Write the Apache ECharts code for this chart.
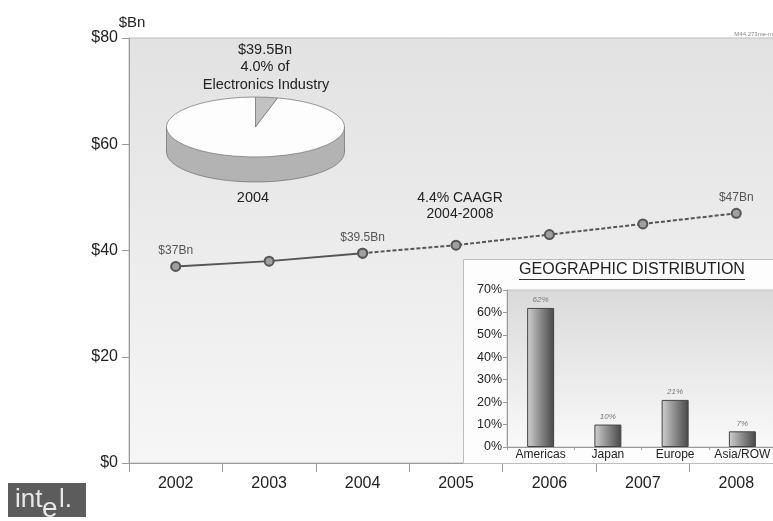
<!DOCTYPE html>
<html>
<head>
<meta charset="utf-8">
<script src="https://cdn.jsdelivr.net/npm/echarts@6/dist/echarts.min.js"></script>
<style>
html,body{margin:0;padding:0;background:#fff;}
#chart{width:773px;height:521px;}
</style>
</head>
<body>
<div id="chart"></div>
<script>
// ---- data ----
const years = ['2002', '2003', '2004', '2005', '2006', '2007', '2008'];
const marketValues = [37, 38, 39.5, 41, 43, 45, 47];   // $Bn
const lastActualIndex = 2;                             // 2004: solid up to here, dashed after
const labeledIndices = [0, 2, 6];
const yTicks = [0, 20, 40, 60, 80];

const pieNames = ['Semiconductors', 'Rest of Electronics Industry'];
const pieShares = [4.0, 96.0];

const regions = ['Americas', 'Japan', 'Europe', 'Asia/ROW'];
const regionShares = [62, 10, 21, 7];

const FONT = "'Liberation Sans', Arial, sans-serif";

const chart = echarts.init(document.getElementById('chart'), null, {renderer: 'canvas'});

function mkLine(isActual) {
  return marketValues.map((v, i) => {
    const inRange = isActual ? i <= lastActualIndex : i >= lastActualIndex;
    if (!inRange) return '-';
    const showLabel = labeledIndices.includes(i) && (isActual ? true : i > lastActualIndex);
    return {value: v, label: {show: showLabel}};
  });
}

const lineCommon = {
  type: 'line',
  xAxisIndex: 0, yAxisIndex: 0,
  symbol: 'circle', symbolSize: 9,
  itemStyle: {color: '#a0a0a0', borderColor: '#555', borderWidth: 2},
  label: {position: 'top', distance: 4, fontSize: 12, color: '#555', fontFamily: FONT,
          formatter: p => '$' + p.value + 'Bn'},
  emphasis: {disabled: true},
  animation: false,
  z: 3
};

// pie drawn as a tilted 3D disc via custom series
const PIE = {cx: 255.5, cy: 127, rx: 89, ry: 30, depth: 25};
function renderPie(params, api) {
  const i = params.dataIndex;
  const total = pieShares.reduce((a, b) => a + b, 0);
  let cum = 0;
  for (let j = 0; j < i; j++) cum += pieShares[j];
  const start = -Math.PI / 2 + cum / total * Math.PI * 2;
  const end = start + pieShares[i] / total * Math.PI * 2;
  const k = PIE.ry / PIE.rx;
  const d = PIE.depth / k;
  const children = [];
  if (i === 0) {
    children.push(
      {type: 'circle', shape: {cx: 0, cy: d, r: PIE.rx},
       style: {fill: '#b3b3b3', stroke: '#6a6a6a', lineWidth: 1, strokeNoScale: true}},
      {type: 'rect', shape: {x: -PIE.rx, y: 0, width: PIE.rx * 2, height: d},
       style: {fill: '#b3b3b3'}},
      {type: 'line', shape: {x1: -PIE.rx, y1: 0, x2: -PIE.rx, y2: d},
       style: {stroke: '#6a6a6a', lineWidth: 1, strokeNoScale: true}},
      {type: 'line', shape: {x1: PIE.rx, y1: 0, x2: PIE.rx, y2: d},
       style: {stroke: '#6a6a6a', lineWidth: 1, strokeNoScale: true}}
    );
  }
  children.push({
    type: 'sector',
    shape: {cx: 0, cy: 0, r: PIE.rx, r0: 0, startAngle: start, endAngle: end, clockwise: true},
    style: {fill: i === 0 ? '#c2c2c2' : '#fdfdfd', stroke: '#6a6a6a', lineWidth: 1, strokeNoScale: true}
  });
  return {type: 'group', x: PIE.cx, y: PIE.cy, scaleY: k, children: children};
}

const option = {
  backgroundColor: '#ffffff',
  animation: false,
  textStyle: {fontFamily: FONT},
  grid: [
    {left: 129, top: 38, width: 654, height: 425, show: true, z: 0, outerBoundsMode: 'none',
     backgroundColor: new echarts.graphic.LinearGradient(0, 0, 0, 1,
       [{offset: 0, color: '#e2e2e2'}, {offset: 1, color: '#f6f6f6'}]),
     borderColor: '#bdbdbd', borderWidth: 1},
    {left: 507, top: 290, width: 269, height: 157, show: true, z: 2, outerBoundsMode: 'none',
     backgroundColor: new echarts.graphic.LinearGradient(0, 0, 0, 1,
       [{offset: 0, color: '#dadada'}, {offset: 1, color: '#f9f9f9'}]),
     borderColor: '#c4c4c4', borderWidth: 1}
  ],
  xAxis: [
    {type: 'category', gridIndex: 0, data: years, boundaryGap: true,
     axisLine: {lineStyle: {color: '#9a9a9a'}},
     axisTick: {show: true, length: 9, interval: 0, lineStyle: {color: '#9a9a9a'}},
     axisLabel: {fontSize: 16, color: '#222', margin: 13, interval: 0, fontFamily: FONT},
     splitLine: {show: false}},
    {type: 'category', gridIndex: 1, data: regions, z: 3,
     axisLine: {lineStyle: {color: '#9a9a9a'}},
     axisTick: {show: true, length: 3, interval: 0, lineStyle: {color: '#9a9a9a'}},
     axisLabel: {fontSize: 12, color: '#222', margin: 2, interval: 0, fontFamily: FONT},
     splitLine: {show: false}}
  ],
  yAxis: [
    {type: 'value', gridIndex: 0, min: yTicks[0], max: yTicks[yTicks.length - 1], interval: 20,
     name: '$Bn', nameLocation: 'end', nameGap: 8,
     nameTextStyle: {fontSize: 15, color: '#222', fontFamily: FONT, align: 'center', padding: [0, 0, 0, 6]},
     axisLine: {show: true, lineStyle: {color: '#9a9a9a'}},
     axisTick: {show: true, length: 7, lineStyle: {color: '#9a9a9a'}},
     axisLabel: {fontSize: 16, color: '#222', margin: 11, fontFamily: FONT, formatter: v => '$' + v},
     splitLine: {show: false}},
    {type: 'value', gridIndex: 1, min: 0, max: 70, interval: 10, z: 3,
     axisLine: {show: true, lineStyle: {color: '#9a9a9a'}},
     axisTick: {show: true, length: 4, lineStyle: {color: '#9a9a9a'}},
     axisLabel: {fontSize: 12.5, color: '#222', margin: 5, fontFamily: FONT, formatter: '{value}%'},
     splitLine: {show: false}}
  ],
  series: [
    Object.assign({}, lineCommon, {
      name: 'Actual', data: mkLine(true),
      lineStyle: {color: '#555', width: 2, type: 'solid'}
    }),
    Object.assign({}, lineCommon, {
      name: 'Forecast', data: mkLine(false),
      lineStyle: {color: '#555', width: 2, type: [4, 2]}
    }),
    {
      type: 'bar', xAxisIndex: 1, yAxisIndex: 1, data: regionShares, barWidth: 27, z: 4,
      itemStyle: {
        color: new echarts.graphic.LinearGradient(0, 0, 1, 0,
          [{offset: 0, color: '#d0d0d0'}, {offset: 0.5, color: '#8a8a8a'}, {offset: 1, color: '#474747'}]),
        borderColor: '#444', borderWidth: 1
      },
      label: {show: true, position: 'top', distance: 4, fontSize: 8, fontStyle: 'italic',
              color: '#777', fontFamily: FONT, formatter: '{c}%'},
      emphasis: {disabled: true}
    },
    {
      type: 'custom', coordinateSystem: 'none', z: 3,
      data: pieShares.map((v, i) => ({name: pieNames[i], value: v})),
      renderItem: renderPie,
      silent: true
    }
  ],
  graphic: [
    // inset panel
    {type: 'rect', z: 1, shape: {x: 463.5, y: 259.5, width: 330, height: 204},
     style: {fill: '#fdfdfd', stroke: '#bdbdbd', lineWidth: 1}},
    {type: 'text', z: 5, x: 632, y: 270,
     style: {text: 'GEOGRAPHIC DISTRIBUTION', font: '16px ' + FONT, fill: '#222',
             textAlign: 'center', textVerticalAlign: 'middle'}},
    {type: 'line', z: 5, shape: {x1: 519, y1: 279.5, x2: 745, y2: 279.5},
     style: {stroke: '#333', lineWidth: 1}},
    // pie annotations
    {type: 'text', z: 5, x: 265, y: 50,
     style: {text: '$39.5Bn', font: '14.5px ' + FONT, fill: '#222', textAlign: 'center', textVerticalAlign: 'middle'}},
    {type: 'text', z: 5, x: 265, y: 67,
     style: {text: '4.0% of', font: '14.5px ' + FONT, fill: '#222', textAlign: 'center', textVerticalAlign: 'middle'}},
    {type: 'text', z: 5, x: 266, y: 85,
     style: {text: 'Electronics Industry', font: '14.5px ' + FONT, fill: '#222', textAlign: 'center', textVerticalAlign: 'middle'}},
    {type: 'text', z: 5, x: 253, y: 198,
     style: {text: '2004', font: '14.5px ' + FONT, fill: '#222', textAlign: 'center', textVerticalAlign: 'middle'}},
    // CAAGR annotation
    {type: 'text', z: 5, x: 460, y: 198,
     style: {text: '4.4% CAAGR', font: '14px ' + FONT, fill: '#222', textAlign: 'center', textVerticalAlign: 'middle'}},
    {type: 'text', z: 5, x: 460, y: 214,
     style: {text: '2004-2008', font: '14px ' + FONT, fill: '#222', textAlign: 'center', textVerticalAlign: 'middle'}},
    // document id
    {type: 'text', z: 5, x: 773, y: 34,
     style: {text: 'M44.273me-m', font: '6px ' + FONT, fill: '#888', textAlign: 'right', textVerticalAlign: 'middle'}},
    // logo
    {type: 'rect', z: 5, shape: {x: 8, y: 483, width: 78, height: 34},
     style: {fill: '#5c5c5c'}},
    {type: 'text', z: 6, x: 15, y: 513,
     style: {text: 'int', font: '26px ' + FONT, fill: '#e8e8e8', textAlign: 'left', textVerticalAlign: 'bottom'}},
    {type: 'text', z: 6, x: 42, y: 523,
     style: {text: 'e', font: '28px ' + FONT, fill: '#e8e8e8', textAlign: 'left', textVerticalAlign: 'bottom'}},
    {type: 'text', z: 6, x: 59, y: 513,
     style: {text: 'l.', font: '26px ' + FONT, fill: '#e8e8e8', textAlign: 'left', textVerticalAlign: 'bottom'}}
  ]
};

chart.setOption(option);
</script>
</body>
</html>
